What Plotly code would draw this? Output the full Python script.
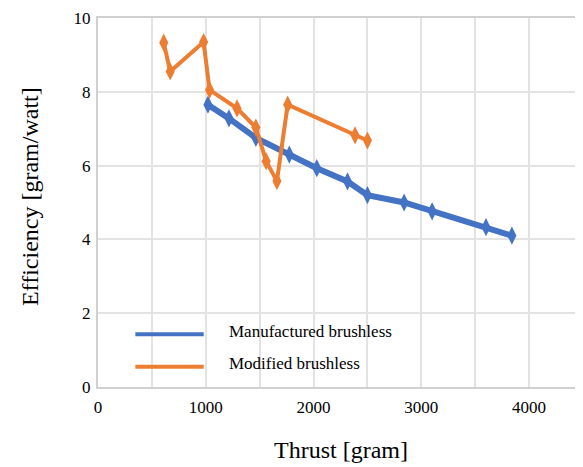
import plotly.graph_objects as go

# values
manufactured_thrust = [1020, 1215, 1465, 1775, 2030, 2315, 2500, 2840, 3100, 3600, 3840]
manufactured_eff = [7.65, 7.28, 6.75, 6.30, 5.93, 5.57, 5.20, 5.00, 4.76, 4.33, 4.10]

modified_thrust = [610, 670, 980, 1035, 1290, 1465, 1560, 1660, 1760, 2385, 2500]
modified_eff = [9.33, 8.55, 9.35, 8.05, 7.55, 7.03, 6.12, 5.58, 7.65, 6.82, 6.68]

x_ticks = [0, 1000, 2000, 3000, 4000]
y_ticks = [0, 2, 4, 6, 8, 10]

names = ["Manufactured brushless", "Modified brushless"]
colors = ["#4472C4", "#ED7D31"]

serif = "Times New Roman, Liberation Serif, serif"
grid_color = "#e3e3e3"

fig = go.Figure()

fig.add_trace(
    go.Scatter(
        x=manufactured_thrust,
        y=manufactured_eff,
        mode="lines+markers",
        name=names[0],
        line=dict(color=colors[0], width=6),
        marker=dict(symbol="diamond-tall", size=13, color=colors[0]),
        showlegend=False,
    )
)

fig.add_trace(
    go.Scatter(
        x=modified_thrust,
        y=modified_eff,
        mode="lines+markers",
        name=names[1],
        line=dict(color=colors[1], width=4),
        marker=dict(symbol="diamond-tall", size=13, color=colors[1]),
        showlegend=False,
    )
)

# legend drawn by hand so the swatches are as long as in the original
legend_y = [0.143, 0.055]
for name, color, ly in zip(names, colors, legend_y):
    fig.add_shape(
        type="line", xref="paper", yref="paper",
        x0=0.077, x1=0.218, y0=ly, y1=ly,
        line=dict(color=color, width=4),
    )
    fig.add_annotation(
        text=name, xref="paper", yref="paper",
        x=0.266, y=ly + 0.008, xanchor="left", yanchor="middle",
        showarrow=False, font=dict(size=17, color="black", family=serif),
    )

# axis titles
fig.add_annotation(
    text="Thrust [gram]", xref="paper", yref="paper",
    x=0.5, y=-0.17, xanchor="center", yanchor="middle",
    showarrow=False, font=dict(size=24, color="black", family=serif),
)
fig.add_annotation(
    text="Efficiency [gram/watt]", xref="paper", yref="paper",
    x=-0.14, y=0.515, xanchor="center", yanchor="middle", textangle=-90,
    showarrow=False, font=dict(size=24, color="black", family=serif),
)

# the page adds an 8 px body margin, so the figure is 8 px smaller than the window
fig.update_layout(
    width=575,
    height=459,
    margin=dict(l=90, r=0, t=10, b=80),
    paper_bgcolor="white",
    plot_bgcolor="white",
    font=dict(family=serif, color="black", size=17),
    xaxis=dict(
        range=[0, 4500],
        tickvals=x_ticks,
        automargin=False,
        showgrid=True,
        gridcolor=grid_color,
        gridwidth=1.5,
        minor=dict(dtick=500, showgrid=True, gridcolor=grid_color, gridwidth=1.5),
        showline=True,
        linecolor="#d0d0d0",
        linewidth=2,
        mirror=True,
        zeroline=False,
        ticks="",
        ticklabelstandoff=4,
        ticklabeloverflow="allow",
        tickfont=dict(size=17, family=serif, color="black"),
    ),
    yaxis=dict(
        range=[0, 10],
        tickvals=y_ticks,
        automargin=False,
        showgrid=True,
        gridcolor=grid_color,
        gridwidth=1.5,
        showline=True,
        linecolor="#d0d0d0",
        linewidth=2,
        mirror=True,
        zeroline=False,
        ticks="",
        ticklabelstandoff=2,
        ticklabeloverflow="allow",
        tickfont=dict(size=17, family=serif, color="black"),
    ),
)

fig.write_html("out.html")
